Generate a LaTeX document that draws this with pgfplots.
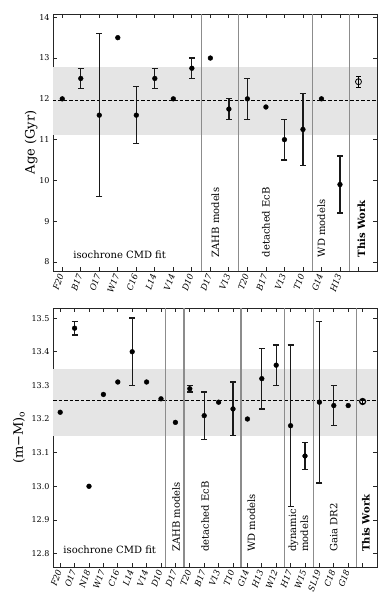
\documentclass[border=0pt]{standalone}
\usepackage{pgfplots}
\pgfplotsset{compat=1.18}
\usepackage{fontspec}
\setmainfont{DejaVu Serif}

\definecolor{bandgray}{gray}{0.9}
\definecolor{linegray}{gray}{0.55}

\tikzset{sepline/.style={linegray, line width=1.2pt}}

\pgfplotsset{
  panel/.style={
    scale only axis,
    width=324pt,
    xmin=-0.5,
    tick align=inside,
    major tick length=4pt,
    axis line style={line width=0.9pt, black!85},
    every tick/.style={black!85, line width=0.8pt},
    /pgf/number format/assume math mode=true,
    yticklabel style={font=\fontsize{8}{9}\selectfont},
    xticklabel style={rotate=70, anchor=east, inner sep=3pt, font=\fontsize{8.5}{9}\selectfont\itshape},
    ylabel style={font=\fontsize{13}{14}\selectfont},
    xtick={0,...,30},
  },
  errpts/.style={
    only marks, mark=*, mark size=2.4pt, black,
    error bars/.cd, y dir=both, y explicit,
    error bar style={line width=1.25pt, black!90},
    error mark options={rotate=90, mark size=3pt, line width=1.25pt, black!90},
  },
  plainpts/.style={only marks, mark=*, mark size=2.4pt, black},
  ownpt/.style={
    only marks, mark=o, mark size=3pt, black, mark options={line width=#1},
    error bars/.cd, y dir=both, y explicit,
    error bar style={line width=1pt, black},
    error mark options={rotate=90, mark size=2.5pt, line width=1pt, black},
  },
}

\begin{document}
\begin{tikzpicture}
\useasboundingbox (-53pt,14pt) rectangle (337pt,-593pt);

% ---------- top panel: ages ----------
\begin{axis}[panel,
  at={(0pt,0pt)}, anchor=north west,
  height=257pt,
  xmax=17, ymin=7.78, ymax=14.08,
  ytick={8,...,14},
  xticklabels={F20,B17,O17,W17,C16,L14,V14,D10,D17,V13,T20,B17,V13,T10,G14,H13,{}},
  ylabel={Age (Gyr)},
  ylabel shift=-5pt,
]
\fill[bandgray] (axis cs:-0.5,11.12) rectangle (axis cs:17,12.78);
\draw[black, line width=1.1pt, dash pattern=on 3.5pt off 2pt] (axis cs:-0.5,11.95) -- (axis cs:17,11.95);
\draw[sepline] (axis cs:7.5,7.78) -- (axis cs:7.5,14.08);
\draw[sepline] (axis cs:9.5,7.78) -- (axis cs:9.5,14.08);
\draw[sepline] (axis cs:13.5,7.78) -- (axis cs:13.5,14.08);
\draw[sepline] (axis cs:15.5,7.78) -- (axis cs:15.5,14.08);
\addplot[errpts] table[x=x, y=y, y error=e] {
x  y     e
1  12.5  0.25
2  11.6  2.0
4  11.6  0.7
5  12.5  0.25
7  12.75 0.25
9  11.75 0.25
10 12.0  0.5
12 11.0  0.5
13 11.25 0.88
15 9.9   0.7
};
\addplot[plainpts] table[x=x, y=y] {
x  y
0  12.0
3  13.5
6  12.0
8  13.0
11 11.8
14 12.0
};
\addplot[ownpt=0.8pt] table[x=x, y=y, y error=e] {
x  y     e
16 12.42 0.13
};
\node[font=\fontsize{10}{11}\selectfont] at (axis cs:3.1,8.17) {isochrone CMD fit};
\node[font=\fontsize{10}{11}\selectfont, rotate=90, anchor=west] at (axis cs:8.27,8.03) {ZAHB models};
\node[font=\fontsize{10}{11}\selectfont, rotate=90, anchor=west] at (axis cs:11.0,8.03) {detached EcB};
\node[font=\fontsize{10}{11}\selectfont, rotate=90, anchor=west] at (axis cs:14.0,8.03) {WD models};
\node[font=\fontsize{10}{11}\selectfont\bfseries, rotate=90, anchor=west] at (axis cs:16.16,8.03) {This Work};
\end{axis}

% ---------- bottom panel: distance modulus ----------
\begin{axis}[panel,
  at={(0pt,-294pt)}, anchor=north west,
  height=259pt,
  xmax=22, ymin=12.76, ymax=13.53,
  ytick={12.8,12.9,13.0,13.1,13.2,13.3,13.4,13.5},
  yticklabel style={/pgf/number format/.cd, fixed, fixed zerofill, precision=1},
  xticklabels={F20,O17,N18,W17,C16,L14,V14,D10,D17,T20,B17,V13,T10,G14,H13,W12,H17,W15,SL19,C18,G18,{}},
  ylabel={(m−M)\textsubscript{o}},
]
\fill[bandgray] (axis cs:-0.5,13.15) rectangle (axis cs:22,13.35);
\draw[black, line width=1.1pt, dash pattern=on 3.5pt off 2pt] (axis cs:-0.5,13.254) -- (axis cs:22,13.254);
\draw[sepline] (axis cs:7.3,12.76) -- (axis cs:7.3,13.53);
\draw[sepline] (axis cs:8.6,12.76) -- (axis cs:8.6,13.53);
\draw[sepline] (axis cs:12.55,12.76) -- (axis cs:12.55,13.53);
\draw[sepline] (axis cs:15.55,12.76) -- (axis cs:15.55,13.53);
\draw[sepline] (axis cs:17.58,12.76) -- (axis cs:17.58,13.53);
\draw[sepline] (axis cs:20.58,12.76) -- (axis cs:20.58,13.53);
\addplot[errpts] table[x=x, y=y, y error=e] {
x  y      e
1  13.47  0.02
5  13.40  0.10
9  13.29  0.01
10 13.21  0.07
12 13.23  0.08
14 13.32  0.09
15 13.36  0.06
16 13.18  0.24
17 13.09  0.04
18 13.25  0.24
19 13.24  0.06
};
\addplot[plainpts] table[x=x, y=y] {
x  y
0  13.22
2  13.00
3  13.273
4  13.31
6  13.31
7  13.26
8  13.19
11 13.25
13 13.20
20 13.24
};
\addplot[ownpt=1.2pt] table[x=x, y=y, y error=e] {
x  y      e
21 13.252 0.005
};
\node[font=\fontsize{10}{11}\selectfont] at (axis cs:3.44,12.812) {isochrone CMD fit};
\node[font=\fontsize{10}{11}\selectfont, rotate=90, anchor=west] at (axis cs:8.05,12.795) {ZAHB models};
\node[font=\fontsize{10}{11}\selectfont, rotate=90, anchor=west] at (axis cs:10.06,12.795) {detached EcB};
\node[font=\fontsize{10}{11}\selectfont, rotate=90, anchor=west] at (axis cs:13.27,12.795) {WD models};
\node[font=\fontsize{10}{11}\selectfont, rotate=90, anchor=west] at (axis cs:16.2,12.795) {dynamic};
\node[font=\fontsize{10}{11}\selectfont, rotate=90, anchor=west] at (axis cs:16.95,12.795) {models};
\node[font=\fontsize{10}{11}\selectfont, rotate=90, anchor=west] at (axis cs:19.0,12.795) {Gaia DR2};
\node[font=\fontsize{10}{11}\selectfont\bfseries, rotate=90, anchor=west] at (axis cs:21.23,12.795) {This Work};
\end{axis}
\end{tikzpicture}
\end{document}
